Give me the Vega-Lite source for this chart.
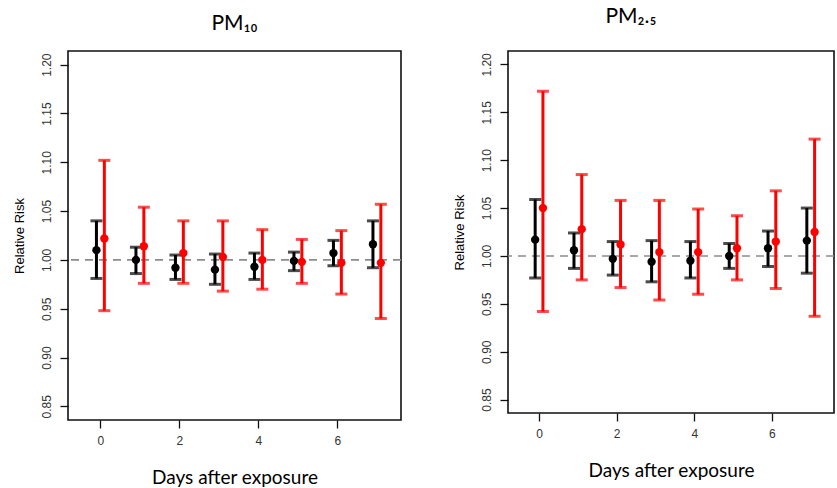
{
  "$schema": "https://vega.github.io/schema/vega-lite/v6.json",
  "padding": {"left": 12, "top": 5, "right": 0, "bottom": 5},
  "spacing": 49,
  "datasets": {
    "pm10": [
      {"day": 0, "model": "a", "est": 1.010, "lo": 0.981, "hi": 1.040},
      {"day": 0, "model": "b", "est": 1.022, "lo": 0.948, "hi": 1.102},
      {"day": 1, "model": "a", "est": 1.000, "lo": 0.986, "hi": 1.013},
      {"day": 1, "model": "b", "est": 1.014, "lo": 0.976, "hi": 1.054},
      {"day": 2, "model": "a", "est": 0.992, "lo": 0.980, "hi": 1.005},
      {"day": 2, "model": "b", "est": 1.007, "lo": 0.976, "hi": 1.040},
      {"day": 3, "model": "a", "est": 0.990, "lo": 0.975, "hi": 1.006},
      {"day": 3, "model": "b", "est": 1.003, "lo": 0.968, "hi": 1.040},
      {"day": 4, "model": "a", "est": 0.993, "lo": 0.980, "hi": 1.007},
      {"day": 4, "model": "b", "est": 1.000, "lo": 0.970, "hi": 1.031},
      {"day": 5, "model": "a", "est": 0.999, "lo": 0.989, "hi": 1.008},
      {"day": 5, "model": "b", "est": 0.998, "lo": 0.976, "hi": 1.021},
      {"day": 6, "model": "a", "est": 1.007, "lo": 0.994, "hi": 1.020},
      {"day": 6, "model": "b", "est": 0.997, "lo": 0.965, "hi": 1.030},
      {"day": 7, "model": "a", "est": 1.016, "lo": 0.992, "hi": 1.040},
      {"day": 7, "model": "b", "est": 0.997, "lo": 0.940, "hi": 1.057}
    ],
    "pm25": [
      {"day": 0, "model": "a", "est": 1.017, "lo": 0.977, "hi": 1.059},
      {"day": 0, "model": "b", "est": 1.050, "lo": 0.942, "hi": 1.172},
      {"day": 1, "model": "a", "est": 1.006, "lo": 0.987, "hi": 1.024},
      {"day": 1, "model": "b", "est": 1.028, "lo": 0.975, "hi": 1.085},
      {"day": 2, "model": "a", "est": 0.997, "lo": 0.980, "hi": 1.015},
      {"day": 2, "model": "b", "est": 1.012, "lo": 0.967, "hi": 1.058},
      {"day": 3, "model": "a", "est": 0.994, "lo": 0.973, "hi": 1.016},
      {"day": 3, "model": "b", "est": 1.004, "lo": 0.954, "hi": 1.058},
      {"day": 4, "model": "a", "est": 0.995, "lo": 0.977, "hi": 1.015},
      {"day": 4, "model": "b", "est": 1.004, "lo": 0.960, "hi": 1.049},
      {"day": 5, "model": "a", "est": 1.000, "lo": 0.987, "hi": 1.013},
      {"day": 5, "model": "b", "est": 1.008, "lo": 0.975, "hi": 1.042},
      {"day": 6, "model": "a", "est": 1.008, "lo": 0.989, "hi": 1.026},
      {"day": 6, "model": "b", "est": 1.015, "lo": 0.966, "hi": 1.068},
      {"day": 7, "model": "a", "est": 1.016, "lo": 0.982, "hi": 1.050},
      {"day": 7, "model": "b", "est": 1.025, "lo": 0.937, "hi": 1.122}
    ]
  },
  "config": {
    "view": {"stroke": "#111", "strokeWidth": 1.6},
    "axis": {
      "grid": false, "domain": false,
      "tickColor": "#111", "tickSize": 8, "tickWidth": 1.3,
      "labelFont": "Liberation Sans", "labelFontSize": 12, "labelColor": "#333", "labelPadding": 7,
      "titleFontWeight": "normal", "titleColor": "#000"
    },
    "title": {"font": "Lato, DejaVu Sans", "fontSize": 21, "fontWeight": "normal", "color": "#000"}
  },
  "hconcat": [
    {
      "width": 333, "height": 369,
      "title": {"text": "PM₁₀", "offset": 17},
      "data": {"name": "pm10"},
      "transform": [{"calculate": "datum.day + (datum.model == 'a' ? -0.1 : 0.1)", "as": "xpos"}],
      "layer": [
        {
          "data": {"values": [{"ref": 1}]},
          "mark": {"type": "rule", "color": "#8c8c8c", "strokeDash": [8, 6], "strokeWidth": 1.6},
          "encoding": {"y": {"field": "ref", "type": "quantitative",
            "scale": {"domain": [0.836, 1.214], "nice": false, "zero": false},
            "axis": {"values": [0.85, 0.9, 0.95, 1.0, 1.05, 1.1, 1.15, 1.2], "format": ".2f", "labelAngle": -90, "labelAlign": "center", "labelBaseline": "bottom",
              "title": "Relative Risk", "titleFont": "Liberation Sans", "titleFontSize": 13, "titlePadding": 14}}}
        },
        {
          "mark": {"type": "rule", "strokeWidth": 3},
          "encoding": {
            "x": {"field": "xpos", "type": "quantitative", "scale": {"domain": [-0.82, 7.61], "nice": false, "zero": false},
              "axis": {"values": [0, 2, 4, 6], "format": "d", "title": "Days after exposure", "titleFont": "Lato", "titleFontSize": 19, "titlePadding": 22}},
            "y": {"field": "lo", "type": "quantitative"},
            "y2": {"field": "hi"},
            "color": {"field": "model", "type": "nominal", "scale": {"domain": ["a", "b"], "range": ["#000000", "#ff0000"]}, "legend": null}
          }
        },
        {
          "mark": {"type": "tick", "orient": "horizontal", "size": 12, "thickness": 3},
          "encoding": {
            "x": {"field": "xpos", "type": "quantitative"},
            "y": {"field": "lo", "type": "quantitative"},
            "color": {"field": "model", "type": "nominal", "legend": null}
          }
        },
        {
          "mark": {"type": "tick", "orient": "horizontal", "size": 12, "thickness": 3},
          "encoding": {
            "x": {"field": "xpos", "type": "quantitative"},
            "y": {"field": "hi", "type": "quantitative"},
            "color": {"field": "model", "type": "nominal", "legend": null}
          }
        },
        {
          "mark": {"type": "point", "filled": true, "size": 70, "opacity": 1},
          "encoding": {
            "x": {"field": "xpos", "type": "quantitative"},
            "y": {"field": "est", "type": "quantitative"},
            "color": {"field": "model", "type": "nominal", "legend": null}
          }
        }
      ]
    },
    {
      "width": 326, "height": 362,
      "title": {"text": "PM₂.₅", "offset": 24, "dx": -40},
      "data": {"name": "pm25"},
      "transform": [{"calculate": "datum.day + (datum.model == 'a' ? -0.1 : 0.1)", "as": "xpos"}],
      "layer": [
        {
          "data": {"values": [{"ref": 1}]},
          "mark": {"type": "rule", "color": "#8c8c8c", "strokeDash": [8, 6], "strokeWidth": 1.6},
          "encoding": {"y": {"field": "ref", "type": "quantitative",
            "scale": {"domain": [0.836, 1.214], "nice": false, "zero": false},
            "axis": {"values": [0.85, 0.9, 0.95, 1.0, 1.05, 1.1, 1.15, 1.2], "format": ".2f", "labelAngle": -90, "labelAlign": "center", "labelBaseline": "bottom",
              "title": "Relative Risk", "titleFont": "Liberation Sans", "titleFontSize": 13, "titlePadding": 14}}}
        },
        {
          "mark": {"type": "rule", "strokeWidth": 3},
          "encoding": {
            "x": {"field": "xpos", "type": "quantitative", "scale": {"domain": [-0.8, 7.6], "nice": false, "zero": false},
              "axis": {"values": [0, 2, 4, 6], "format": "d", "title": "Days after exposure", "titleFont": "Lato", "titleFontSize": 19, "titlePadding": 22}},
            "y": {"field": "lo", "type": "quantitative"},
            "y2": {"field": "hi"},
            "color": {"field": "model", "type": "nominal", "scale": {"domain": ["a", "b"], "range": ["#000000", "#ff0000"]}, "legend": null}
          }
        },
        {
          "mark": {"type": "tick", "orient": "horizontal", "size": 12, "thickness": 3},
          "encoding": {
            "x": {"field": "xpos", "type": "quantitative"},
            "y": {"field": "lo", "type": "quantitative"},
            "color": {"field": "model", "type": "nominal", "legend": null}
          }
        },
        {
          "mark": {"type": "tick", "orient": "horizontal", "size": 12, "thickness": 3},
          "encoding": {
            "x": {"field": "xpos", "type": "quantitative"},
            "y": {"field": "hi", "type": "quantitative"},
            "color": {"field": "model", "type": "nominal", "legend": null}
          }
        },
        {
          "mark": {"type": "point", "filled": true, "size": 70, "opacity": 1},
          "encoding": {
            "x": {"field": "xpos", "type": "quantitative"},
            "y": {"field": "est", "type": "quantitative"},
            "color": {"field": "model", "type": "nominal", "legend": null}
          }
        }
      ]
    }
  ]
}
